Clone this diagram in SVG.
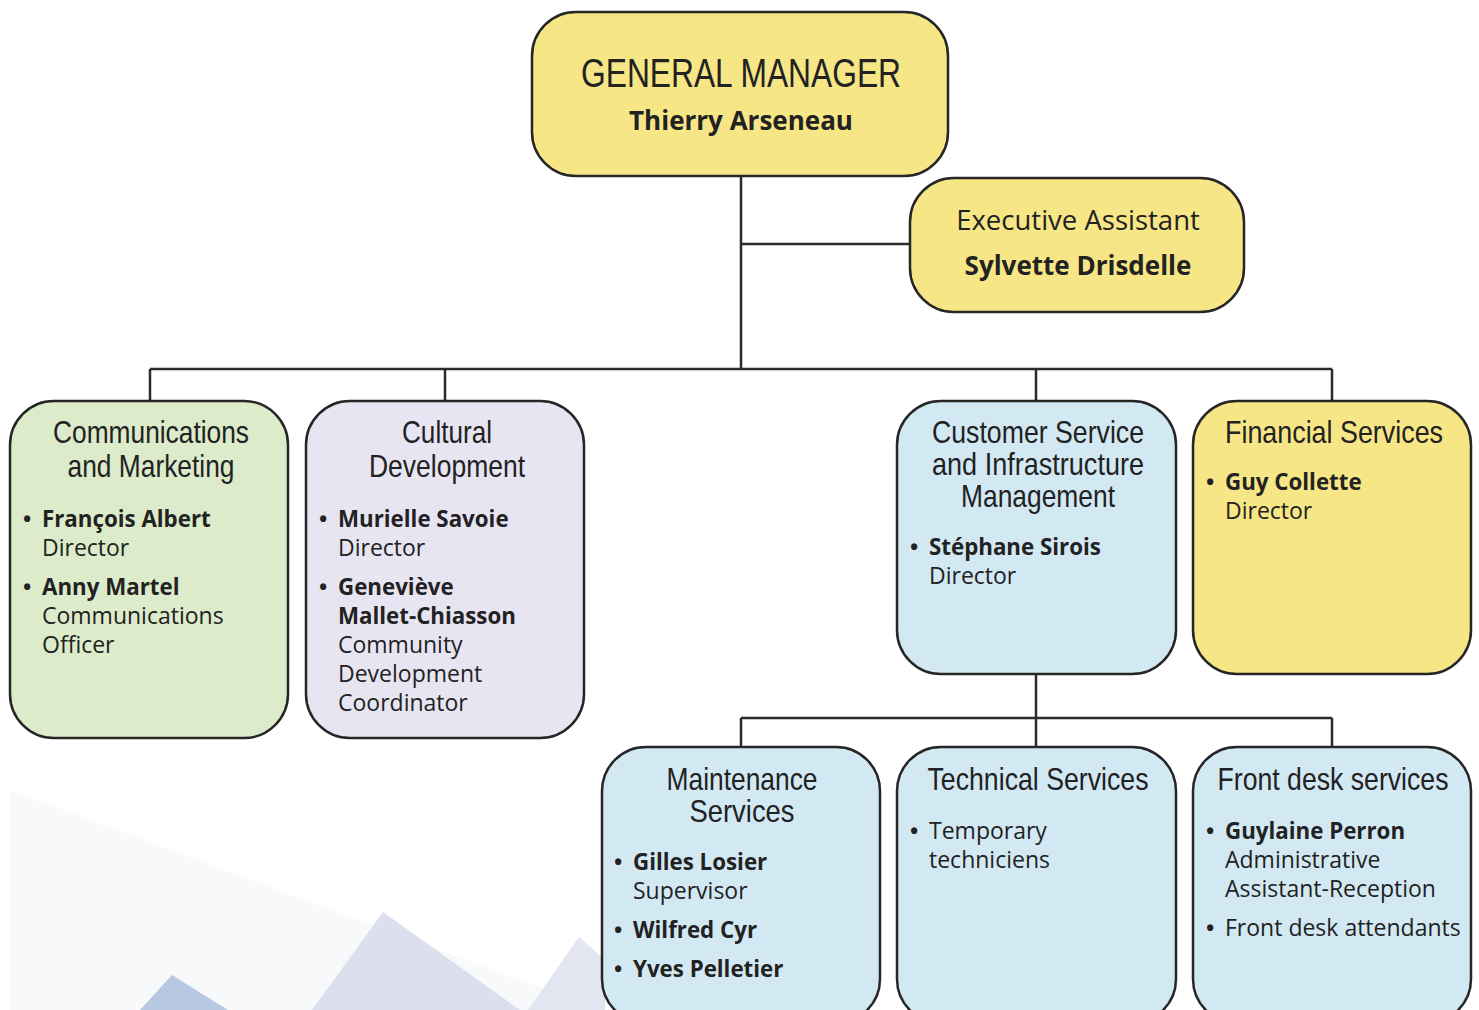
<svg xmlns="http://www.w3.org/2000/svg" width="1479" height="1010" viewBox="0 0 1479 1010">
<style>
.box{stroke:#262626;stroke-width:2.5}
.y{fill:#f7e685}.g{fill:#dcebca}.p{fill:#e8e5f3}.b{fill:#d2e9f4}
.head{font-family:"Liberation Sans Narrow","Liberation Sans",Arial,sans-serif;fill:#222;text-anchor:middle}
.body{font-family:"Open Sans","Noto Sans","DejaVu Sans",sans-serif;font-size:23px;fill:#222}
.bold{font-weight:bold;font-size:22.3px}
.bul{font-family:"Open Sans","Noto Sans","DejaVu Sans",sans-serif;font-size:22px;font-weight:bold;fill:#222}
.conn{stroke:#2b2b2b;stroke-width:2.5;fill:none}
</style>
<rect width="1479" height="1010" fill="#ffffff"/>
<g id="background">
<polygon points="10,790 600,1010 10,1010" fill="#f8f9fa"/>
<polygon points="140,1010 172,975 228,1010" fill="#b7c8e3"/>
<polygon points="312,1010 383,912 520,1010" fill="#dcdfed"/>
<polygon points="528,1010 579,937 605,960 605,1010" fill="#e3e5f0"/>
</g>
<g id="connectors">
<path class="conn" d="M741,176 V369 M741,244 H910 M150,369 H1332 M150,369 V401 M445,369 V401 M1036,369 V401 M1332,369 V401"/>
<path class="conn" d="M1036,674 V747 M741,718 H1332 M741,718 V747 M1332,718 V747"/>
</g>
<g id="general-manager">
<rect class="box y" x="532" y="12" width="416" height="164" rx="44"/>
<text class="head" x="741" y="87" font-size="40" textLength="320" lengthAdjust="spacingAndGlyphs">GENERAL MANAGER</text>
<text class="body" x="741" y="130" text-anchor="middle" style="font-size:26px;font-weight:bold">Thierry Arseneau</text>
</g>
<g id="executive-assistant">
<rect class="box y" x="910" y="178" width="334" height="134" rx="44"/>
<text class="body" x="1078" y="230" text-anchor="middle" style="font-size:27.5px">Executive Assistant</text>
<text class="body" x="1078" y="275" text-anchor="middle" style="font-size:26px;font-weight:bold">Sylvette Drisdelle</text>
</g>
<g id="communications-marketing">
<rect class="box g" x="10" y="401" width="278" height="337" rx="44"/>
<text class="head" x="151" y="443" font-size="32" textLength="196" lengthAdjust="spacingAndGlyphs">Communications</text>
<text class="head" x="151" y="477" font-size="32" textLength="167" lengthAdjust="spacingAndGlyphs">and Marketing</text>
<text class="bul" x="23" y="527">•</text>
<text class="body bold" x="42" y="527">François Albert</text>
<text class="body" x="42" y="556">Director</text>
<text class="bul" x="23" y="595">•</text>
<text class="body bold" x="42" y="595">Anny Martel</text>
<text class="body" x="42" y="624">Communications</text>
<text class="body" x="42" y="653">Officer</text>
</g>
<g id="cultural-development">
<rect class="box p" x="306" y="401" width="278" height="337" rx="44"/>
<text class="head" x="447" y="443" font-size="32" textLength="90" lengthAdjust="spacingAndGlyphs">Cultural</text>
<text class="head" x="447" y="477" font-size="32" textLength="156" lengthAdjust="spacingAndGlyphs">Development</text>
<text class="bul" x="319" y="527">•</text>
<text class="body bold" x="338" y="527">Murielle Savoie</text>
<text class="body" x="338" y="556">Director</text>
<text class="bul" x="319" y="595">•</text>
<text class="body bold" x="338" y="595">Geneviève</text>
<text class="body bold" x="338" y="624">Mallet-Chiasson</text>
<text class="body" x="338" y="653">Community</text>
<text class="body" x="338" y="682">Development</text>
<text class="body" x="338" y="711">Coordinator</text>
</g>
<g id="customer-service">
<rect class="box b" x="897" y="401" width="279" height="273" rx="44"/>
<text class="head" x="1038" y="443" font-size="32" textLength="212" lengthAdjust="spacingAndGlyphs">Customer Service</text>
<text class="head" x="1038" y="475" font-size="32" textLength="212" lengthAdjust="spacingAndGlyphs">and Infrastructure</text>
<text class="head" x="1038" y="507" font-size="32" textLength="154" lengthAdjust="spacingAndGlyphs">Management</text>
<text class="bul" x="910" y="555">•</text>
<text class="body bold" x="929" y="555">Stéphane Sirois</text>
<text class="body" x="929" y="584">Director</text>
</g>
<g id="financial-services">
<rect class="box y" x="1193" y="401" width="278" height="273" rx="44"/>
<text class="head" x="1334" y="443" font-size="32" textLength="218" lengthAdjust="spacingAndGlyphs">Financial Services</text>
<text class="bul" x="1206" y="490">•</text>
<text class="body bold" x="1225" y="490">Guy Collette</text>
<text class="body" x="1225" y="519">Director</text>
</g>
<g id="maintenance-services">
<rect class="box b" x="602" y="747" width="278" height="276" rx="44"/>
<text class="head" x="742" y="790" font-size="32" textLength="151" lengthAdjust="spacingAndGlyphs">Maintenance</text>
<text class="head" x="742" y="822" font-size="32" textLength="105" lengthAdjust="spacingAndGlyphs">Services</text>
<text class="bul" x="614" y="870">•</text>
<text class="body bold" x="633" y="870">Gilles Losier</text>
<text class="body" x="633" y="899">Supervisor</text>
<text class="bul" x="614" y="938">•</text>
<text class="body bold" x="633" y="938">Wilfred Cyr</text>
<text class="bul" x="614" y="977">•</text>
<text class="body bold" x="633" y="977">Yves Pelletier</text>
</g>
<g id="technical-services">
<rect class="box b" x="897" y="747" width="279" height="276" rx="44"/>
<text class="head" x="1038" y="790" font-size="32" textLength="221" lengthAdjust="spacingAndGlyphs">Technical Services</text>
<text class="bul" x="910" y="839">•</text>
<text class="body" x="929" y="839">Temporary</text>
<text class="body" x="929" y="868">techniciens</text>
</g>
<g id="front-desk-services">
<rect class="box b" x="1193" y="747" width="278" height="276" rx="44"/>
<text class="head" x="1333" y="790" font-size="32" textLength="231" lengthAdjust="spacingAndGlyphs">Front desk services</text>
<text class="bul" x="1206" y="839">•</text>
<text class="body bold" x="1225" y="839">Guylaine Perron</text>
<text class="body" x="1225" y="868">Administrative</text>
<text class="body" x="1225" y="897">Assistant-Reception</text>
<text class="bul" x="1206" y="936">•</text>
<text class="body" x="1225" y="936">Front desk attendants</text>
</g>
</svg>
